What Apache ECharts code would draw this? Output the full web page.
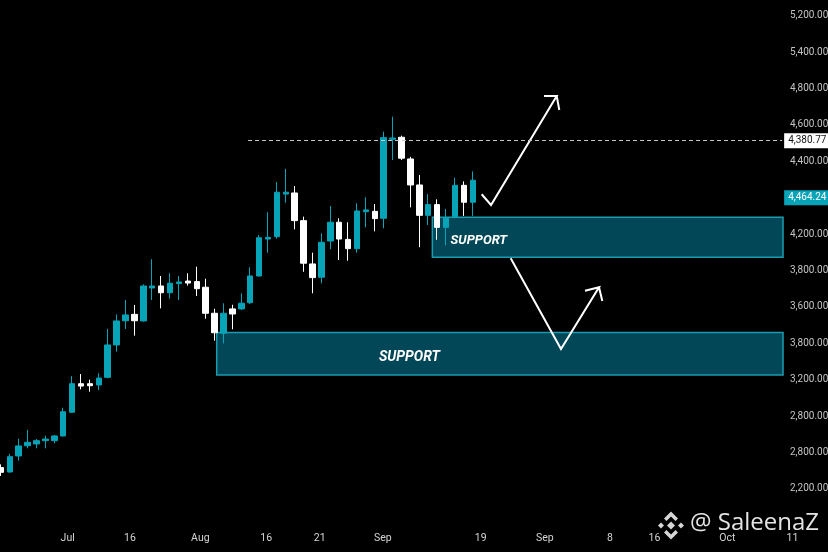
<!DOCTYPE html>
<html>
<head>
<meta charset="utf-8">
<script src="https://cdn.jsdelivr.net/npm/echarts@6/dist/echarts.min.js"></script>
<style>
html,body{margin:0;padding:0;background:#000;}
#c{width:828px;height:552px;}
</style>
</head>
<body>
<div id="c"></div>
<script>
// ---- candle values (daily OHLC) ----
const opens  = [2717,2693,2781,2837,2847,2865,2865,2891,3021,3178,3178,3171,3213,3391,3524,3559,3523,3704,3715,3678,3728,3742,3739,3708,3565,3455,3589,3589,3623,3770,3973,3986,4220,4226,4074,3836,3763,3962,4065,3971,3920,4123,4125,4087,4521,4532,4413,4270,4103,4162,4037,4096,4268,4175];
const closes = [2691,2777,2836,2856,2865,2874,2891,3024,3178,3165,3167,3209,3391,3523,3556,3524,3715,3715,3678,3730,3737,3731,3700,3565,3458,3565,3561,3620,3770,3980,3982,4230,4230,4074,3840,3761,3955,4065,3973,3920,4127,4133,4085,4530,4528,4417,4270,4103,4162,4037,4090,4268,4175,4296];
const lows   = [2671,2689,2755,2823,2823,2823,2851,2887,3019,3147,3134,3143,3208,3354,3479,3442,3519,3638,3592,3645,3638,3717,3660,3535,3414,3400,3477,3583,3616,3766,3898,3975,4173,4026,3793,3675,3730,3917,3858,3854,3898,4037,4015,4032,4407,4407,4147,3928,4050,3969,3939,4087,4100,4100];
const highs  = [2735,2792,2876,2924,2874,2892,2896,3046,3220,3231,3200,3235,3479,3559,3638,3611,3724,3862,3770,3785,3770,3785,3821,3755,3590,3620,3612,3675,3818,3995,4120,4286,4358,4264,4096,3898,4004,4154,4087,4065,4169,4202,4165,4563,4645,4541,4425,4325,4220,4191,4138,4310,4290,4345];

// ---- axis tick labels ----
const xTickPos    = [7.5, 14.5, 22.4, 29.8, 35.8, 42.9, 53.9, 61.1, 68.4, 73.4, 81.6, 88.9];
const xTickLabels = ['Jul','16','Aug','16','21','Sep','19','Sep','8','16','Oct','11'];
const yTickValues = [5200,5000,4800,4600,4400,4200,4000,3800,3600,3400,3200,3000,2800,2600];
const yTickLabels = ['5,200.00','5,400.00','4,800.00','4,600.00','4,400.00','','4,200.00','3,800.00','3,600.00','3,800.00','3,200.00','2,800.00','2,800.00','2,200.00'];

// ---- annotations (in data units: candle index, price) ----
const supportUpper = {x0: 48.46, x1: 87.85, top: 4092, bottom: 3873, text: 'SUPPORT'};
const supportLower = {x0: 24.24, x1: 87.85, top: 3460, bottom: 3226, text: 'SUPPORT'};
const levelLine   = {x0: 27.76, x1: 87.75, price: 4513, text: '4,380.77'};
const lastBadge   = {x0: 87.70, x1: 87.75, price: 4200, text: '4,464.24'};
const arrowUp   = [[54.0,4219],[55.05,4160],[62.43,4759],[61.0,4759],[62.43,4759],[62.72,4682]];
const arrowDown = [[57.26,3867],[62.91,3369],[67.18,3708],[65.61,3689],[67.18,3708],[67.55,3632]];
const watermark = '@ SaleenaZ';

const candles = opens.map((o, i) => [i, o, closes[i], lows[i], highs[i]]);

const FONT = "Roboto,'Liberation Sans',sans-serif";
const TEAL = '#07a3b7';

const fmtX = v => {
  for (let k = 0; k < xTickPos.length; k++) if (Math.abs(v - xTickPos[k]) < 0.04) return xTickLabels[k];
  return '';
};
const fmtY = v => {
  const k = yTickValues.indexOf(Math.round(v));
  return k >= 0 ? yTickLabels[k] : '';
};

const chart = echarts.init(document.getElementById('c'));
chart.setOption({
  animation: false,
  backgroundColor: '#000000',
  grid: {left: 0, right: 0, top: 0, bottom: 26.7, outerBoundsMode: 'none', containLabel: false},
  xAxis: {
    type: 'value', min: -0.1, max: 92.9, interval: 0.1,
    splitLine: {show: false}, axisLine: {show: false}, axisTick: {show: false},
    axisLabel: {margin: 8, color: '#d4d4d4', fontSize: 10.5, fontFamily: FONT, formatter: fmtX}
  },
  yAxis: {
    type: 'value', position: 'right', offset: -44, min: 2400, max: 5286.3, interval: 200,
    splitLine: {show: false}, axisLine: {show: false}, axisTick: {show: false},
    axisLabel: {margin: 6, color: '#c4c4c4', fontSize: 10, fontFamily: FONT, formatter: fmtY, align: 'left'}
  },
  series: [
    {
      type: 'line', name: 'zones', data: [], z: 1, silent: true,
      markArea: {
        silent: true,
        itemStyle: {color: '#024757', borderColor: '#1a9bb0', borderWidth: 1.5},
        data: [
          [{xAxis: supportUpper.x0, yAxis: supportUpper.top,
            label: {show: true, position: 'insideLeft', distance: 0, offset: [19, 3], formatter: supportUpper.text,
                    color: '#ffffff', fontSize: 13, fontWeight: 'bold', fontStyle: 'italic', fontFamily: FONT}},
           {xAxis: supportUpper.x1, yAxis: supportUpper.bottom}],
          [{xAxis: supportLower.x0, yAxis: supportLower.top,
            label: {show: true, position: 'insideLeft', distance: 0, offset: [163, 4], formatter: supportLower.text,
                    color: '#ffffff', fontSize: 14, fontWeight: 'bold', fontStyle: 'italic', fontFamily: FONT}},
           {xAxis: supportLower.x1, yAxis: supportLower.bottom}]
        ]
      },
      markLine: {
        silent: true, symbol: ['none', 'none'],
        lineStyle: {type: [4, 3], color: '#c8c8c8', width: 1},
        data: [
          [{coord: [levelLine.x0, levelLine.price],
            label: {show: true, position: 'end', distance: 2, formatter: levelLine.text, backgroundColor: '#ffffff',
                    color: '#151515', fontSize: 10, fontFamily: FONT, padding: [3, 4, 2, 4]}},
           {coord: [levelLine.x1, levelLine.price]}],
          [{coord: [lastBadge.x0, lastBadge.price], lineStyle: {color: 'rgba(0,0,0,0)', width: 0},
            label: {show: true, position: 'end', distance: 2, formatter: lastBadge.text, backgroundColor: TEAL,
                    color: '#ffffff', fontSize: 10, fontFamily: FONT, padding: [3, 4, 2, 4]}},
           {coord: [lastBadge.x1, lastBadge.price]}]
        ]
      }
    },
    {
      type: 'candlestick', name: 'price', z: 2,
      data: candles,
      encode: {x: 0, y: [1, 2, 3, 4]},
      barWidth: 6,
      itemStyle: {color: TEAL, color0: '#ffffff', borderColor: TEAL, borderColor0: '#ffffff', borderWidth: 1}
    },
    {
      type: 'line', name: 'up path', data: arrowUp, z: 3, silent: true, symbol: 'none',
      lineStyle: {color: '#ffffff', width: 2, join: 'miter'}
    },
    {
      type: 'line', name: 'down path', data: arrowDown, z: 3, silent: true, symbol: 'none',
      lineStyle: {color: '#ffffff', width: 2, join: 'miter'}
    }
  ],
  graphic: [
    {
      type: 'group', x: 671, y: 525.5, silent: true,
      children: [
        {type: 'polygon', shape: {points: [[0,-4],[4,0],[0,4],[-4,0]]}, style: {fill: '#d6d6d6'}},
        {type: 'polygon', shape: {points: [[-13,0],[-10,-3],[-7,0],[-10,3]]}, style: {fill: '#d6d6d6'}},
        {type: 'polygon', shape: {points: [[13,0],[10,-3],[7,0],[10,3]]}, style: {fill: '#d6d6d6'}},
        {type: 'polygon', shape: {points: [[0,-14],[7,-7],[4.5,-4.5],[0,-9],[-4.5,-4.5],[-7,-7]]}, style: {fill: '#d6d6d6'}},
        {type: 'polygon', shape: {points: [[0,14],[7,7],[4.5,4.5],[0,9],[-4.5,4.5],[-7,7]]}, style: {fill: '#d6d6d6'}}
      ]
    },
    {
      type: 'text', silent: true,
      style: {x: 690, y: 523, text: watermark, fill: '#e4e4e4', font: '24px "Open Sans", sans-serif', verticalAlign: 'middle'}
    }
  ]
});
</script>
</body>
</html>
